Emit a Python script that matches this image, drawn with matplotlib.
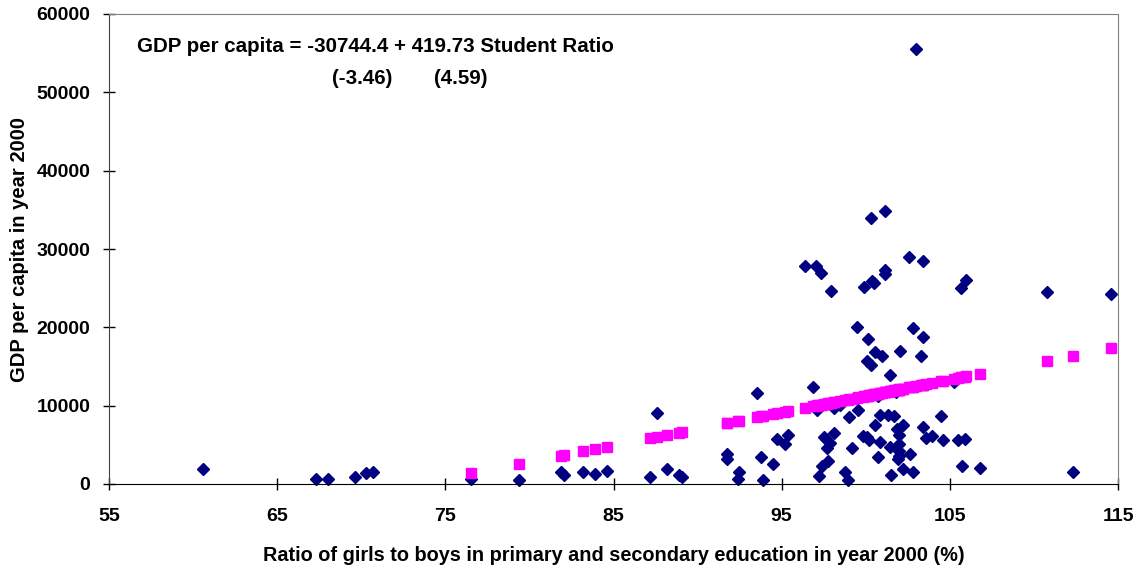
import matplotlib
matplotlib.use("Agg")
from matplotlib import pyplot as plt
import numpy as np

plt.rcParams["font.family"] = ["Liberation Sans", "DejaVu Sans"]
plt.rcParams["font.weight"] = "bold"

# ratio of girls to boys in education (%), year 2000
ratio = [
    60.6, 67.3, 68.05, 69.6, 70.3, 70.7, 76.5, 79.4, 81.9, 82.05,
    83.2, 83.9, 84.6, 87.2, 87.6, 88.2, 88.9, 89.1, 91.75, 91.75,
    92.45, 92.4, 93.55, 93.8, 93.9, 94.47, 94.72, 95.2, 95.37, 96.86,
    97.13, 97.2, 97.42, 97.76, 97.52, 97.62, 97.9, 97.7, 98.1, 98.1,
    98.45, 98.74, 98.92, 99.0, 99.17, 99.56, 99.48, 100.15, 100.55, 100.96,
    100.1, 100.3, 101.46, 99.85, 100.1, 100.22, 100.55, 100.86, 101.35, 101.7,
    100.86, 100.72, 101.46, 101.53, 101.86, 102.0, 101.96, 101.95, 101.98, 101.9,
    102.05, 102.24, 102.24, 102.6, 102.62, 102.78, 103.42, 103.27, 102.8, 103.4,
    103.6, 103.92, 103.43, 104.48, 104.6, 105.25, 105.48, 105.9, 105.65, 105.97,
    105.75, 106.8, 110.75, 112.3, 114.6, 96.37, 97.02, 97.35, 97.92, 100.3,
    101.13, 99.88, 100.38, 100.48, 101.17, 101.17, 103.0, 100.7, 101.8,
]
# GDP per capita in year 2000
gdp = [
    1900, 640, 640, 850, 1360, 1530, 600, 470, 1490, 1190,
    1490, 1320, 1720, 850, 9100, 1890, 1190, 870, 3880, 3250,
    1570, 620, 11580, 3490, 470, 2550, 5770, 5070, 6280, 12430,
    9400, 1040, 2250, 2960, 6040, 5790, 5260, 4560, 6470, 9720,
    10090, 1530, 470, 8540, 4560, 9470, 20070, 18480, 16860, 16350,
    15670, 15130, 13880, 6180, 6040, 5620, 7490, 8750, 8750, 8740,
    5400, 3490, 4750, 1170, 7060, 6200, 5150, 4200, 3550, 3150,
    17020, 7530, 1950, 29030, 3800, 19880, 18810, 16350, 1530, 7300,
    5900, 6100, 28500, 8720, 5620, 12960, 5620, 5770, 25010, 26030,
    2250, 2080, 24450, 1490, 24260, 27840, 27840, 26900, 24620, 33970,
    34860, 25150, 25900, 25670, 27330, 26780, 55500, 11200, 11700,
]

# regression shown on the chart
intercept = -30744.4
slope = 419.73

x = np.array(ratio)
y = np.array(gdp)
fitted = intercept + slope * x
keep = fitted > 0

W, H = 1143, 573
fig = plt.figure(figsize=(W / 100, H / 100), dpi=100)
ax = fig.add_axes([109 / W, 1 - 484 / H, 1009 / W, 470 / H])

ax.plot(x, y, linestyle="none", marker="D", markersize=6.5,
        color="#000080", clip_on=False)
ax.plot(x[keep], fitted[keep], linestyle="none", marker="s", markersize=7,
        color="#FF00FF", clip_on=False)

ax.set_xlim(55, 115)
ax.set_ylim(0, 60000)
ax.set_xticks(range(55, 116, 10))
ax.set_yticks(range(0, 60001, 10000))

ax.spines["top"].set_color("#808080")
ax.spines["right"].set_color("#808080")
ax.spines["left"].set_color("#404040")
ax.tick_params(axis="both", direction="inout", length=9, width=1,
               labelsize=14)
ax.tick_params(axis="x", pad=13)
ax.tick_params(axis="y", pad=9)

ax.set_xlabel("Ratio of girls to boys in primary and secondary education in year 2000 (%)",
              fontsize=14.3, fontweight="bold", labelpad=15)
ax.set_ylabel("GDP per capita in year 2000", fontsize=14.5,
              fontweight="bold", labelpad=5)

ax.text(137 / W, 1 - 47 / H, "GDP per capita = -30744.4 + 419.73 Student Ratio",
        transform=fig.transFigure, fontsize=14.8, fontweight="bold", va="center")
ax.text(362 / W, 1 - 78 / H, "(-3.46)", transform=fig.transFigure, fontsize=14.8,
        fontweight="bold", va="center", ha="center")
ax.text(461 / W, 1 - 78 / H, "(4.59)", transform=fig.transFigure, fontsize=14.8,
        fontweight="bold", va="center", ha="center")

fig.savefig("out.png", dpi=100)
